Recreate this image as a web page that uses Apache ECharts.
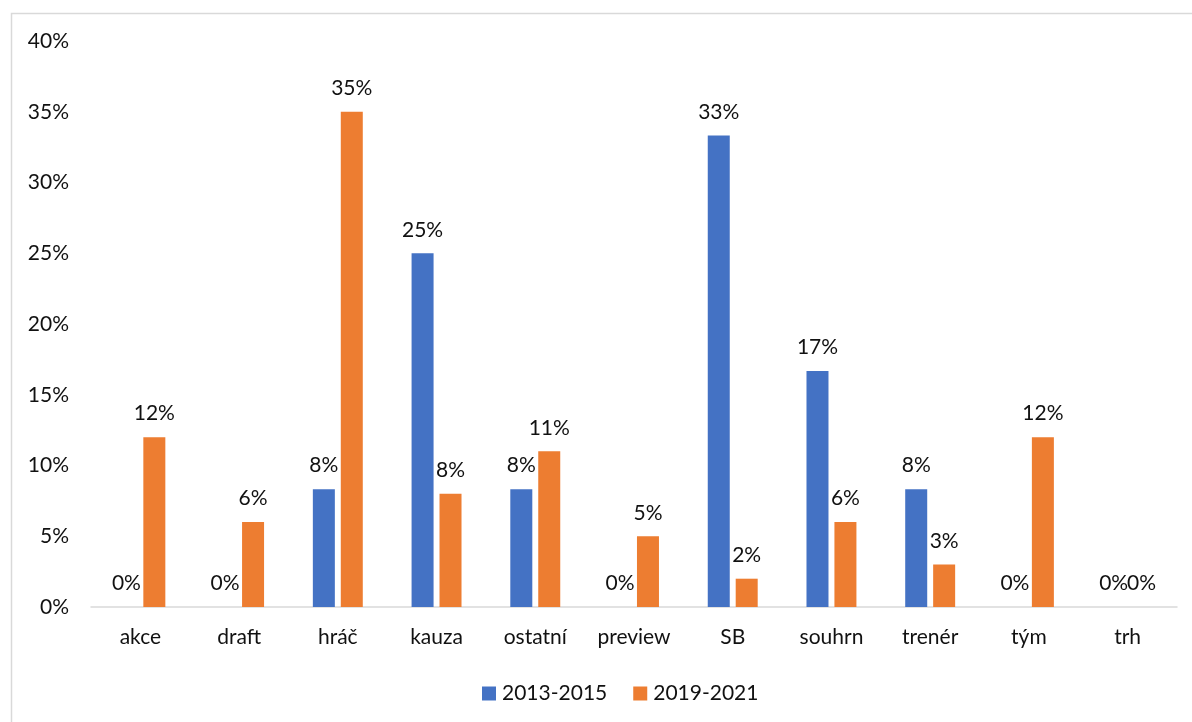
<!DOCTYPE html>
<html>
<head>
<meta charset="utf-8">
<script src="https://cdn.jsdelivr.net/npm/echarts@6/dist/echarts.min.js"></script>
<style>
  html, body { margin: 0; padding: 0; background: #fff; }
  #chart { width: 1192px; height: 722px; }
</style>
</head>
<body>
<div id="chart"></div>
<script>
// Share of articles by topic, two periods (percent)
const categories = ['akce', 'draft', 'hráč', 'kauza', 'ostatní', 'preview', 'SB', 'souhrn', 'trenér', 'tým', 'trh'];
const series2013 = [0, 0, 8.33, 25, 8.33, 0, 33.33, 16.67, 8.33, 0, 0];
const series2019 = [12, 6, 35, 8, 11, 5, 2, 6, 3, 12, 0];
const yTicks = { min: 0, max: 40, interval: 5 };

const FONT = 'Lato, "Noto Sans", sans-serif';
const TEXT = '#111';
const SIZE = 21;

const chart = echarts.init(document.getElementById('chart'), null, { renderer: 'canvas' });

const labelOpt = {
  show: true,
  position: 'top',
  distance: 13,
  color: TEXT,
  fontFamily: FONT,
  fontSize: SIZE,
  formatter: p => Math.round(p.value) + '%'
};

chart.setOption({
  animation: false,
  backgroundColor: '#fff',
  textStyle: { fontFamily: FONT },
  graphic: [{
    type: 'rect',
    shape: { x: 11.5, y: 13.5, width: 1400, height: 900 },
    style: { fill: 'none', stroke: '#d9d9d9', lineWidth: 1.5 },
    silent: true,
    z: -1
  }],
  legend: {
    left: 477,
    top: 678,
    itemWidth: 14,
    itemHeight: 14,
    itemGap: 26,
    icon: 'rect',
    textStyle: { color: TEXT, fontFamily: FONT, fontSize: SIZE, padding: [0, 0, 0, 1] },
    data: ['2013-2015', '2019-2021']
  },
  grid: { left: 91, right: 15, top: 41, bottom: 115, containLabel: false },
  xAxis: {
    type: 'category',
    data: categories,
    axisLine: { show: true, lineStyle: { color: '#d9d9d9', width: 1.5 } },
    axisTick: { show: false },
    axisLabel: { color: TEXT, fontFamily: FONT, fontSize: SIZE, margin: 20 }
  },
  yAxis: {
    type: 'value',
    min: yTicks.min,
    max: yTicks.max,
    interval: yTicks.interval,
    splitLine: { show: false },
    axisLine: { show: false },
    axisTick: { show: false },
    axisLabel: { color: TEXT, fontFamily: FONT, fontSize: SIZE, margin: 22, formatter: '{value}%' }
  },
  series: [
    {
      name: '2013-2015',
      type: 'bar',
      data: series2013,
      barWidth: 22,
      barGap: '27%',
      itemStyle: { color: '#4472C4' },
      label: labelOpt
    },
    {
      name: '2019-2021',
      type: 'bar',
      data: series2019,
      barWidth: 22,
      itemStyle: { color: '#ED7D31' },
      label: labelOpt
    }
  ]
});
</script>
</body>
</html>
